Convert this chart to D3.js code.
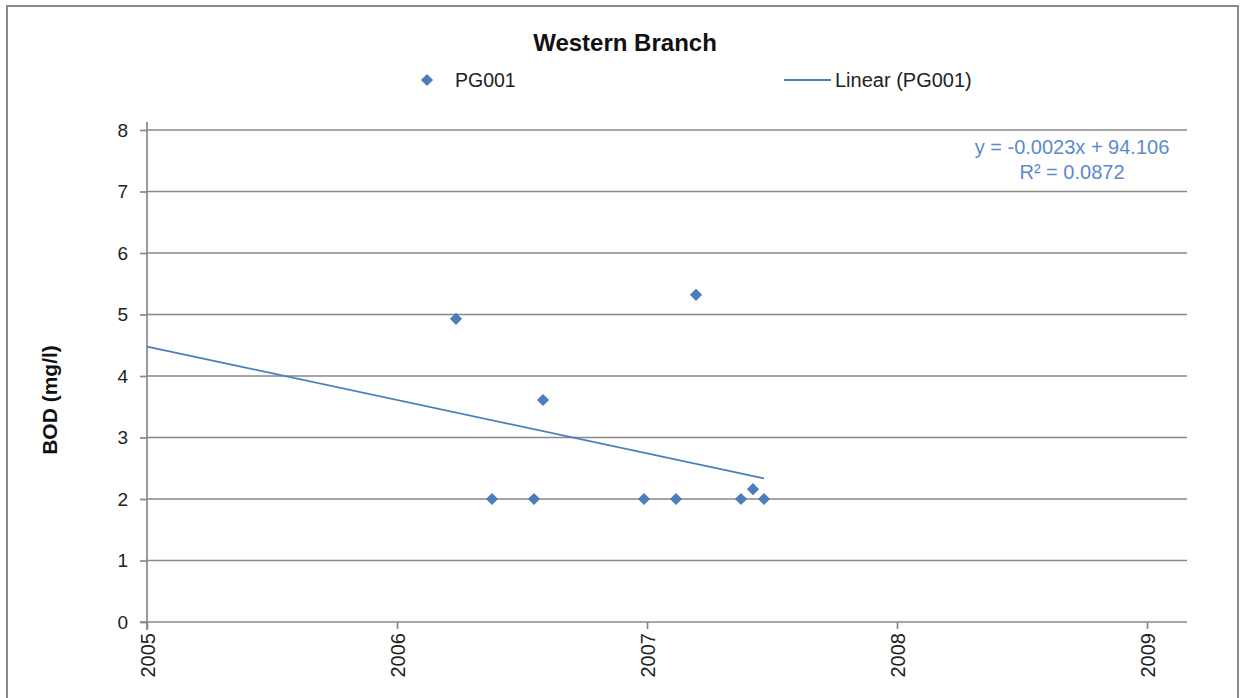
<!DOCTYPE html>
<html>
<head>
<meta charset="utf-8">
<script src="https://cdn.jsdelivr.net/npm/d3@7/dist/d3.min.js"></script>
<style>
  html, body { margin: 0; padding: 0; background: #fff; }
  text { font-family: "Liberation Sans", Arial, sans-serif; }
</style>
</head>
<body>
<svg id="chart" width="1242" height="698"></svg>
<script>
// Sampling dates (decimal years) and BOD readings for station PG001
const sampleYears = [2006.236, 2006.380, 2006.548, 2006.584, 2006.988, 2007.116, 2007.196, 2007.376, 2007.424, 2007.468];
const bodValues   = [4.93, 2.0, 2.0, 3.61, 2.0, 2.0, 5.32, 2.0, 2.16, 2.0];

const yearTicks  = [2005, 2006, 2007, 2008, 2009];
const yearLabels = ["2005", "2006", "2007", "2008", "2009"];
const bodTicks   = [0, 1, 2, 3, 4, 5, 6, 7, 8];

const titleText   = "Western Branch";
const seriesName  = "PG001";
const trendName   = "Linear (PG001)";
const yAxisTitle  = "BOD (mg/l)";
const equationText = "y = -0.0023x + 94.106";
const r2Text       = "R\u00b2 = 0.0872";

const svg = d3.select("#chart");
const plot = { left: 147, right: 1187, top: 130, bottom: 622 };

const blue = "#4a7ebb";
const gridGray = "#888888";

// outer chart frame
svg.append("rect")
  .attr("x", 7).attr("y", 6).attr("width", 1231).attr("height", 720)
  .attr("fill", "#fff").attr("stroke", "#8a8a8a").attr("stroke-width", 2);

const x = d3.scaleLinear().domain([2005, 2009.16]).range([plot.left, plot.right]);
const y = d3.scaleLinear().domain([0, 8]).range([plot.bottom, plot.top]);

// horizontal gridlines
svg.append("g")
  .selectAll("line")
  .data(bodTicks.filter(d => d > 0))
  .join("line")
  .attr("x1", plot.left).attr("x2", plot.right)
  .attr("y1", d => y(d)).attr("y2", d => y(d))
  .attr("stroke", gridGray).attr("stroke-width", 1.7);

// y axis
const yAxis = svg.append("g")
  .attr("transform", `translate(${plot.left},0)`)
  .call(d3.axisLeft(y).tickValues(bodTicks).tickSize(7).tickPadding(12).tickFormat(d3.format("d")));
yAxis.select(".domain").attr("stroke", gridGray).attr("stroke-width", 1.7)
  .attr("d", `M0,${plot.top - 8}V${plot.bottom + 8}`);
yAxis.selectAll(".tick line").attr("stroke", gridGray).attr("stroke-width", 1.7);
yAxis.selectAll(".tick text")
  .attr("fill", "#222").style("font-size", "19px")
  .style("font-family", "'Liberation Sans', Arial, sans-serif");

// x axis
const xAxis = svg.append("g")
  .attr("transform", `translate(0,${plot.bottom})`)
  .call(d3.axisBottom(x).tickValues(yearTicks).tickSize(7)
    .tickFormat((d, i) => yearLabels[i]));
xAxis.select(".domain").attr("stroke", gridGray).attr("stroke-width", 1.7)
  .attr("d", `M${plot.left - 7},0H${plot.right}`);
xAxis.selectAll(".tick line").attr("stroke", gridGray).attr("stroke-width", 1.7);
xAxis.selectAll(".tick text")
  .attr("fill", "#222").style("font-size", "20px")
  .style("font-family", "'Liberation Sans', Arial, sans-serif")
  .attr("text-anchor", "end")
  .attr("dy", "0.35em")
  .attr("transform", "translate(0,11) rotate(-90)")
  .attr("x", 0).attr("y", 0);

// least-squares trend through the readings
const n = sampleYears.length;
const mx = d3.mean(sampleYears), my = d3.mean(bodValues);
let sxy = 0, sxx = 0;
for (let i = 0; i < n; i++) {
  sxy += (sampleYears[i] - mx) * (bodValues[i] - my);
  sxx += (sampleYears[i] - mx) ** 2;
}
const slope = sxy / sxx, intercept = my - slope * mx;
const trendX = [x.domain()[0], d3.max(sampleYears)];
svg.append("path")
  .datum(trendX)
  .attr("d", d3.line().x(d => x(d)).y(d => y(intercept + slope * d)))
  .attr("fill", "none").attr("stroke", blue).attr("stroke-width", 1.8);

// data points (diamonds)
const diamond = d3.symbol().type(d3.symbolDiamond2).size(95);
svg.append("g")
  .selectAll("path")
  .data(sampleYears.map((d, i) => [d, bodValues[i]]))
  .join("path")
  .attr("d", diamond)
  .attr("transform", d => `translate(${x(d[0])},${y(d[1])})`)
  .attr("fill", blue);

// title
svg.append("text")
  .attr("x", 625).attr("y", 51)
  .attr("text-anchor", "middle")
  .style("font-size", "24px").style("font-weight", "bold")
  .attr("fill", "#111")
  .text(titleText);

// legend
svg.append("path")
  .attr("d", diamond)
  .attr("transform", "translate(427,80)")
  .attr("fill", blue);
svg.append("text")
  .attr("x", 455).attr("y", 87)
  .style("font-size", "19.5px").attr("fill", "#222")
  .text(seriesName);
svg.append("line")
  .attr("x1", 784).attr("x2", 831).attr("y1", 80).attr("y2", 80)
  .attr("stroke", blue).attr("stroke-width", 1.8);
svg.append("text")
  .attr("x", 835).attr("y", 87)
  .style("font-size", "20px").attr("fill", "#222")
  .text(trendName);

// y axis title
svg.append("text")
  .attr("transform", "translate(57,400) rotate(-90)")
  .attr("text-anchor", "middle")
  .style("font-size", "21px").style("font-weight", "bold")
  .attr("fill", "#111")
  .text(yAxisTitle);

// regression equation
svg.append("text")
  .attr("x", 1072).attr("y", 154)
  .attr("text-anchor", "middle")
  .style("font-size", "20px").attr("fill", "#5b8bcb")
  .text(equationText);
svg.append("text")
  .attr("x", 1072).attr("y", 179)
  .attr("text-anchor", "middle")
  .style("font-size", "20px").attr("fill", "#5b8bcb")
  .text(r2Text);
</script>
</body>
</html>
